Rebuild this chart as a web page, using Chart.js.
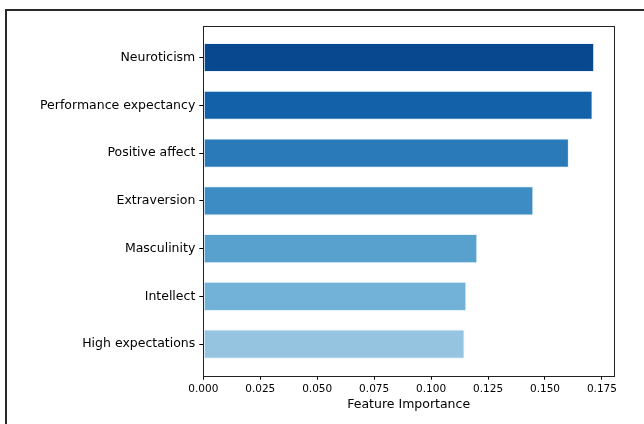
<!DOCTYPE html>
<html lang="en">
<head>
    <meta charset="UTF-8">
    <title>Feature Importance</title>
    <script src="https://cdn.jsdelivr.net/npm/chart.js"></script>
    <style>
        html, body { margin: 0; padding: 0; background: #fff; }
        .marco { position: absolute; left: 5px; top: 9px; width: 650px; height: 430px;
                 border-top: 2px solid #2a2a2a; border-left: 2px solid #2a2a2a; }
        #grafico { position: absolute; left: 0; top: 0; }
    </style>
</head>
<body>
    <div class="marco"></div>
    <canvas id="grafico" width="644" height="424"></canvas>
    <script>
    // datos (de arriba hacia abajo)
    const categorias = ['Neuroticism', 'Performance expectancy', 'Positive affect', 'Extraversion',
                        'Masculinity', 'Intellect', 'High expectations'];
    const importancia = [0.1716, 0.1709, 0.1605, 0.1449, 0.1203, 0.1155, 0.1147];
    const ticksX = [0, 0.025, 0.05, 0.075, 0.1, 0.125, 0.15, 0.175];
    const colores = ['#08488e', '#1361a9', '#2a7ab9', '#3d8dc4', '#58a1cf', '#72b2d8', '#94c4df'];

    const fuente = "'DejaVu Sans', sans-serif";

    // marco del area del grafico (los cuatro lados)
    const marcoPlugin = {
        id: 'marcoPlugin',
        afterDraw(chart) {
            const { ctx, chartArea: a } = chart;
            ctx.save();
            ctx.strokeStyle = '#222';
            ctx.lineWidth = 1;
            ctx.strokeRect(Math.round(a.left) + 0.5, Math.round(a.top) + 0.5,
                           Math.round(a.right - a.left), Math.round(a.bottom - a.top));
            ctx.restore();
        }
    };

    const ctx = document.getElementById('grafico').getContext('2d');
    const chart = new Chart(ctx, {
        type: 'bar',
        data: {
            datasets: [{
                label: 'Feature Importance',
                data: importancia.map((v, i) => ({ x: v, y: i })),
                backgroundColor: colores,
                borderColor: 'rgba(190, 220, 245, 0.35)',
                borderWidth: 1,
                borderSkipped: false,
                categoryPercentage: 1,
                barPercentage: 0.61
            }]
        },
        options: {
            indexAxis: 'y',
            responsive: false,
            animation: false,
            layout: { padding: { left: 0, right: 30, top: 26, bottom: 0 } },
            plugins: {
                legend: { display: false },
                tooltip: { enabled: false }
            },
            scales: {
                x: {
                    type: 'linear',
                    min: 0,
                    max: 0.1803,
                    offset: false,
                    afterBuildTicks: s => { s.ticks = ticksX.map(v => ({ value: v })); },
                    afterFit: s => { s.height = 48.3; },
                    grid: { drawOnChartArea: false, drawTicks: true, tickLength: 4, tickColor: '#000', offset: false },
                    border: { display: false },
                    ticks: {
                        color: '#000',
                        padding: 3,
                        maxRotation: 0,
                        autoSkip: false,
                        font: { family: fuente, size: 10.5 },
                        callback: v => Number(v).toFixed(3)
                    },
                    title: {
                        display: true,
                        text: 'Feature Importance',
                        color: '#000',
                        font: { family: fuente, size: 12.5 },
                        padding: { top: 2, bottom: 12 }
                    }
                },
                y: {
                    type: 'linear',
                    reverse: true,
                    min: -0.66,
                    max: 6.66,
                    offset: false,
                    afterBuildTicks: s => { s.ticks = categorias.map((c, i) => ({ value: i })); },
                    afterFit: s => { s.width = 203.3; },
                    grid: { drawOnChartArea: false, drawTicks: true, tickLength: 4, tickColor: '#000', offset: false },
                    border: { display: false },
                    ticks: {
                        color: '#000',
                        padding: 4,
                        autoSkip: false,
                        font: { family: fuente, size: 12.5 },
                        callback: v => categorias[v]
                    }
                }
            }
        },
        plugins: [marcoPlugin]
    });
    </script>
</body>
</html>
